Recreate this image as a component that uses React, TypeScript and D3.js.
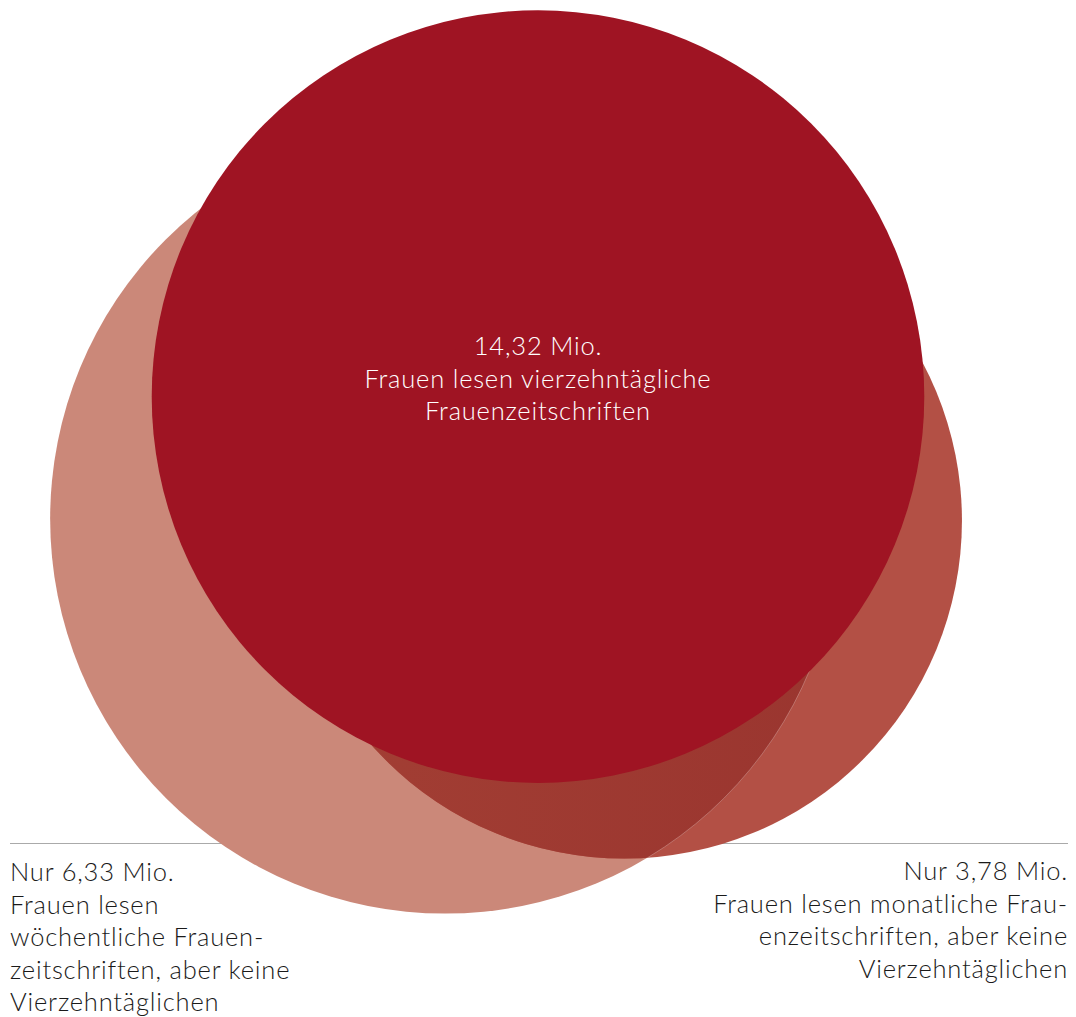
import React, { useEffect, useRef } from "react";
import * as d3 from "d3";

// readers in millions
const values = [14.32, 6.33, 3.78];
const headlines = ["14,32 Mio.", "Nur 6,33 Mio.", "Nur 3,78 Mio."];
const descriptions = [
  ["Frauen lesen vierzehntägliche", "Frauenzeitschriften"],
  ["Frauen lesen", "wöchentliche Frauen-", "zeitschriften, aber keine", "Vierzehntäglichen"],
  ["Frauen lesen monatliche Frau-", "enzeitschriften, aber keine", "Vierzehntäglichen"],
];
const circleColors = ["#9f1423", "#cb8879", "#b35045"];

// circle layout in relative units (0..1 of drawing area)
const layoutCx = [0.5, 0.4136, 0.58];
const layoutCy = [0.39, 0.51, 0.512];
const layoutR = [0.359, 0.367, 0.314];

const App = () => {
  const ref = useRef<SVGSVGElement>(null);

  useEffect(() => {
    const width = 1076;
    const height = 1017;
    const fontFamily = "Lato";
    const fontSize = 25.5;
    const lineHeight = 32.5;

    const svg = d3.select(ref.current);
    svg.selectAll("*").remove();

    const x = d3.scaleLinear().domain([0, 1]).range([0, width]);
    const y = d3.scaleLinear().domain([0, 1]).range([0, height]);
    const r = d3.scaleLinear().domain([0, 1]).range([0, width]);

    const circles = values.map((v, i) => ({
      value: v,
      cx: x(layoutCx[i]),
      cy: y(layoutCy[i]),
      r: r(layoutR[i]),
      color: circleColors[i],
    }));
    const [top, left, right] = circles;

    const defs = svg.append("defs");
    defs
      .append("clipPath")
      .attr("id", "clip-left")
      .append("circle")
      .attr("cx", left.cx)
      .attr("cy", left.cy)
      .attr("r", left.r);
    defs
      .append("clipPath")
      .attr("id", "clip-right")
      .append("circle")
      .attr("cx", right.cx)
      .attr("cy", right.cy)
      .attr("r", right.r);
    const grad = defs
      .append("linearGradient")
      .attr("id", "overlap-grad")
      .attr("x1", "0%")
      .attr("x2", "100%");
    grad.append("stop").attr("offset", "0%").attr("stop-color", "#a33f34");
    grad.append("stop").attr("offset", "100%").attr("stop-color", "#98332e");

    /* baseline rule */
    svg
      .append("line")
      .attr("x1", 10)
      .attr("x2", 1068)
      .attr("y1", 843.5)
      .attr("y2", 843.5)
      .attr("stroke", "#aaaaaa")
      .attr("stroke-width", 1);

    /* circles */
    svg
      .append("circle")
      .attr("cx", left.cx)
      .attr("cy", left.cy)
      .attr("r", left.r)
      .attr("fill", left.color);
    svg
      .append("circle")
      .attr("cx", right.cx)
      .attr("cy", right.cy)
      .attr("r", right.r)
      .attr("fill", right.color);
    // overlap of weekly and monthly
    svg
      .append("circle")
      .attr("cx", right.cx)
      .attr("cy", right.cy)
      .attr("r", right.r)
      .attr("clip-path", "url(#clip-left)")
      .attr("fill", "url(#overlap-grad)");
    svg
      .append("circle")
      .attr("cx", left.cx)
      .attr("cy", left.cy)
      .attr("r", left.r)
      .attr("clip-path", "url(#clip-right)")
      .attr("fill", "none")
      .attr("stroke", "rgba(255,255,255,0.3)")
      .attr("stroke-width", 0.8);
    svg
      .append("circle")
      .attr("cx", top.cx)
      .attr("cy", top.cy)
      .attr("r", top.r)
      .attr("fill", top.color);

    /* labels */
    const addLabel = (
      lines: string[],
      tx: number,
      ty: number,
      anchor: string,
      color: string
    ) => {
      const t = svg
        .append("text")
        .attr("font-family", fontFamily)
        .attr("font-weight", 300)
        .attr("font-size", fontSize)
        .attr("fill", color)
        .attr("text-anchor", anchor)
        .style("letter-spacing", "0.8px");
      lines.forEach((l, i) => {
        t.append("tspan")
          .attr("x", tx)
          .attr("y", ty + i * lineHeight)
          .text(l);
      });
    };

    addLabel([headlines[0], ...descriptions[0]], top.cx, 355, "middle", "#ffffff");
    addLabel([headlines[1], ...descriptions[1]], 10, 881, "start", "#1a1a1a");
    addLabel([headlines[2], ...descriptions[2]], 1068, 880, "end", "#1a1a1a");
  }, []);

  return (
    <svg
      ref={ref}
      width={1076}
      height={1017}
      style={{ position: "absolute", left: 0, top: 0, display: "block" }}
    />
  );
};

export default App;
